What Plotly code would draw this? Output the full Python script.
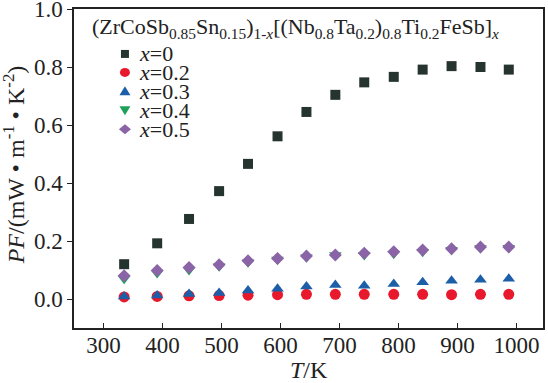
import plotly.graph_objects as go

# ---- data ----
T = [335, 391, 445, 496, 545, 595, 644, 693, 742, 792, 841, 890, 939, 987]
pf_x0 = [0.120, 0.192, 0.276, 0.372, 0.466, 0.561, 0.645, 0.704, 0.747, 0.766, 0.791, 0.803, 0.800, 0.791]
pf_x02 = [0.007, 0.009, 0.011, 0.012, 0.013, 0.015, 0.016, 0.016, 0.016, 0.016, 0.016, 0.015, 0.016, 0.016]
pf_x03 = [0.009, 0.012, 0.017, 0.021, 0.029, 0.035, 0.043, 0.048, 0.046, 0.052, 0.058, 0.063, 0.066, 0.070]
pf_x04 = [0.070, 0.090, 0.100, 0.113, 0.127, 0.136, 0.144, 0.152, 0.152, 0.156, 0.163, 0.170, 0.176, 0.177]
pf_x05 = [0.080, 0.098, 0.109, 0.118, 0.132, 0.140, 0.148, 0.152, 0.158, 0.163, 0.169, 0.173, 0.179, 0.179]

series_names = ["<i>x</i>=0", "<i>x</i>=0.2", "<i>x</i>=0.3", "<i>x</i>=0.4", "<i>x</i>=0.5"]
x_ticks = [300, 400, 500, 600, 700, 800, 900, 1000]
y_ticks = [0.0, 0.2, 0.4, 0.6, 0.8, 1.0]

legend_title = ("(ZrCoSb<sub>0.85</sub>Sn<sub>0.15</sub>)<sub>1-<i>x</i></sub>"
                "[(Nb<sub>0.8</sub>Ta<sub>0.2</sub>)<sub>0.8</sub>Ti<sub>0.2</sub>FeSb]<sub><i>x</i></sub>")

# ---- styles ----
colors = ["#263430", "#e8192c", "#1c5ea8", "#1ea05a", "#8b63a7"]
symbols = ["square", "circle", "triangle-up", "triangle-down", "diamond"]
sizes = [10, 11, 11, 11, 10]
FONT = "Liberation Serif"

W, H = 548, 383
L, R, TOP, B = 74, 4.5, 8.5, 55
PW = W - L - R
PH = H - TOP - B

def px(xp):
    return (xp - L) / PW

def py(yp):
    return (H - B - yp) / PH

fig = go.Figure()
all_y = [pf_x0, pf_x02, pf_x03, pf_x04, pf_x05]
for i, ys in enumerate(all_y):
    fig.add_trace(go.Scatter(
        x=T, y=ys, mode="markers", name=series_names[i], showlegend=False,
        marker=dict(symbol=symbols[i], size=sizes[i], color=colors[i], line=dict(width=0)),
    ))

# ---- manual legend ----
shapes = []
annotations = []
leg_y = [53.5, 72, 91, 110, 129]
mx = px(125)
for i in range(5):
    yy = py(leg_y[i])
    common = dict(xref="paper", yref="paper", xsizemode="pixel", ysizemode="pixel",
                  xanchor=mx, yanchor=yy, fillcolor=colors[i], line=dict(width=0))
    if i == 0:
        shapes.append(dict(type="rect", x0=-4, x1=4, y0=-4, y1=4, **common))
    elif i == 1:
        shapes.append(dict(type="circle", x0=-5, x1=5, y0=-4.5, y1=4.5, **common))
    elif i == 2:
        shapes.append(dict(type="path", path="M -5.5,-4 L 5.5,-4 L 0,5 Z", **common))
    elif i == 3:
        shapes.append(dict(type="path", path="M -5.5,4 L 5.5,4 L 0,-5 Z", **common))
    else:
        shapes.append(dict(type="path", path="M -6,0 L 0,5 L 6,0 L 0,-5 Z", **common))
    annotations.append(dict(
        x=px(137), y=yy, xref="paper", yref="paper", xanchor="left", yanchor="middle",
        text=series_names[i], showarrow=False, font=dict(family=FONT, size=22, color="#222"),
    ))

annotations.append(dict(
    x=px(90), y=py(28), xref="paper", yref="paper", xanchor="left", yanchor="middle",
    text=legend_title, showarrow=False, font=dict(family=FONT, size=22, color="#222"),
))
annotations.append(dict(
    x=px(14), y=py(165), xref="paper", yref="paper", xanchor="center", yanchor="middle",
    textangle=-90, text="<i>PF</i>/(mW • m<sup>-1</sup> • K<sup>-2</sup>)", showarrow=False,
    font=dict(family=FONT, size=24, color="#222"),
))
annotations.append(dict(
    x=0.5, y=py(370), xref="paper", yref="paper", xanchor="center", yanchor="middle",
    text="<i>T</i>/K", showarrow=False, font=dict(family=FONT, size=24, color="#222"),
))

fig.update_layout(
    width=W, height=H,
    margin=dict(l=L, r=R, t=TOP, b=B, pad=0, autoexpand=False),
    paper_bgcolor="white", plot_bgcolor="white",
    shapes=shapes, annotations=annotations,
    showlegend=False,
    font=dict(family=FONT, size=22, color="#222"),
)
fig.update_xaxes(
    range=[250, 1045], tickvals=x_ticks, ticks="inside", ticklen=5, tickwidth=1.2,
    tickcolor="#222", showline=True, linecolor="#222", linewidth=1.5, mirror=True,
    showgrid=False, zeroline=False, ticklabeloverflow="allow", automargin=False,
    ticklabelstandoff=-4,
    tickfont=dict(family=FONT, size=23, color="#222"),
)
fig.update_yaxes(
    range=[-0.1, 1.0], tickvals=y_ticks, tickformat=".1f", ticks="outside", ticklen=5,
    tickwidth=1.2, tickcolor="#222", showline=True, linecolor="#222", linewidth=1.5,
    mirror=True, showgrid=False, zeroline=False, ticklabeloverflow="allow", automargin=False,
    tickfont=dict(family=FONT, size=23, color="#222"),
)

fig.write_html("out.html", config={"displayModeBar": False},
               post_script="document.body.style.margin='0';document.body.style.padding='0';")
